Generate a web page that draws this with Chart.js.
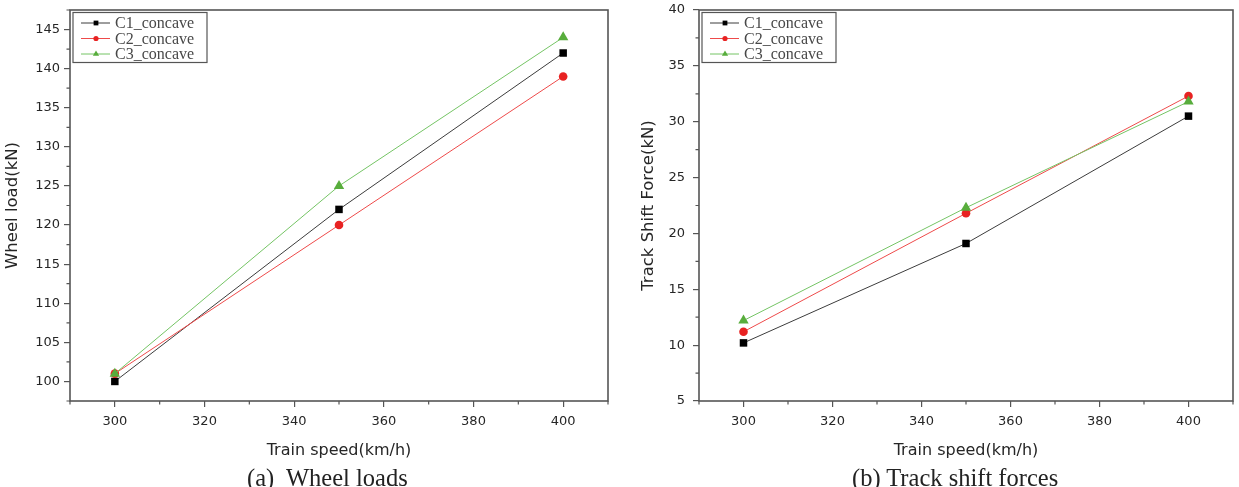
<!DOCTYPE html>
<html>
<head>
<meta charset="utf-8">
<script src="https://cdn.jsdelivr.net/npm/chart.js@4.4.0/dist/chart.umd.min.js"></script>
<style>
  html, body { margin: 0; padding: 0; background: #fff; }
  body { width: 1239px; height: 487px; position: relative; overflow: hidden; }
  .panel { position: absolute; top: 0; height: 465px; }
  .cap { position: absolute; top: 466px; font-family: 'Liberation Serif', 'Times New Roman', serif;
         font-size: 24.5px; line-height: 24px; color: #222; white-space: pre; }
</style>
</head>
<body>
<div class="panel" style="left:0;width:620px"><canvas id="chartA"></canvas></div>
<div class="panel" style="left:630px;width:609px"><canvas id="chartB"></canvas></div>
<div class="cap" style="left:247px">(a)  Wheel loads</div>
<div class="cap" style="left:852px">(b) Track shift forces</div>
<script>
// ── data ─────────────────────────────────────────
const speeds      = [300, 350, 400];
const seriesNames = ['C1_concave', 'C2_concave', 'C3_concave'];

const wheelC1 = [100, 122, 142];
const wheelC2 = [101, 120, 139];
const wheelC3 = [101, 125, 144];

const shiftC1 = [10.2, 19.1, 30.5];
const shiftC2 = [11.2, 21.8, 32.3];
const shiftC3 = [12.2, 22.3, 31.8];

const xTicks     = [300, 320, 340, 360, 380, 400];
const xMinor     = [290, 310, 330, 350, 370, 390, 410];
const wheelTicks = [100, 105, 110, 115, 120, 125, 130, 135, 140, 145];
const wheelMinor = [97.5, 102.5, 107.5, 112.5, 117.5, 122.5, 127.5, 132.5, 137.5, 142.5, 147.5];
const shiftTicks = [5, 10, 15, 20, 25, 30, 35, 40];
const shiftMinor = [7.5, 12.5, 17.5, 22.5, 27.5, 32.5, 37.5];

// ── styles ───────────────────────────────────────
const lineColors  = ['#3c3c3c', '#ee4a4a', '#74c464'];
const markColors  = ['#000000', '#e82222', '#58ad3c'];
const markStyles  = ['rect', 'circle', 'triangle'];
const markRadius  = [5.3, 4.3, 6];
const axisColor   = '#555';
const textColor   = '#262626';
const sans        = "'DejaVu Sans', sans-serif";

function drawMarker(ctx, style, x, y, r) {
  ctx.beginPath();
  if (style === 'rect') {
    const s = r * 0.75;
    ctx.rect(x - s, y - s, 2 * s, 2 * s);
  } else if (style === 'circle') {
    ctx.arc(x, y, r, 0, Math.PI * 2);
  } else {
    ctx.moveTo(x, y - r);
    ctx.lineTo(x + r * 0.87, y + r * 0.5);
    ctx.lineTo(x - r * 0.87, y + r * 0.5);
    ctx.closePath();
  }
  ctx.fill();
}

// frame, minor ticks and inner legend
const framePlugin = {
  id: 'framePlugin',
  afterDatasetsDraw(chart, args, opts) {
    const ctx = chart.ctx, a = chart.chartArea;
    const xs = chart.scales.x, ys = chart.scales.y;
    ctx.save();
    ctx.strokeStyle = axisColor;
    ctx.lineWidth = 1.6;
    ctx.strokeRect(a.left, a.top, a.right - a.left, a.bottom - a.top);

    ctx.lineWidth = 1.2;
    ctx.beginPath();
    xMinor.forEach(v => {
      const px = xs.getPixelForValue(v);
      ctx.moveTo(px, a.bottom); ctx.lineTo(px, a.bottom + 3.5);
    });
    opts.yMinor.forEach(v => {
      const py = ys.getPixelForValue(v);
      ctx.moveTo(a.left, py); ctx.lineTo(a.left - 3.5, py);
    });
    ctx.stroke();

    // legend
    const bx = a.left + 3, by = a.top + 2.5, bw = 134, bh = 50;
    ctx.fillStyle = '#fff';
    ctx.fillRect(bx, by, bw, bh);
    ctx.strokeStyle = axisColor;
    ctx.lineWidth = 1.2;
    ctx.strokeRect(bx, by, bw, bh);
    ctx.font = "16px 'Liberation Serif', serif";
    ctx.textBaseline = 'middle';
    seriesNames.forEach((name, i) => {
      const y = by + 10.5 + i * 15.5;
      ctx.strokeStyle = lineColors[i];
      ctx.lineWidth = 1;
      ctx.beginPath(); ctx.moveTo(bx + 8, y); ctx.lineTo(bx + 37, y); ctx.stroke();
      ctx.fillStyle = markColors[i];
      drawMarker(ctx, markStyles[i], bx + 23, y, markRadius[i] * 0.6);
      ctx.fillStyle = '#484848';
      ctx.fillText(name, bx + 42, y + 1);
    });
    ctx.restore();
  }
};

function makeChart(id, series, yMin, yMax, yTicks, yMinor, yTitle, lay) {
  const datasets = series.map((vals, i) => ({
    label: seriesNames[i],
    data: speeds.map((s, k) => ({ x: s, y: vals[k] })),
    borderColor: lineColors[i],
    borderWidth: 1,
    backgroundColor: markColors[i],
    pointBackgroundColor: markColors[i],
    pointBorderColor: markColors[i],
    pointBorderWidth: 0,
    pointStyle: markStyles[i],
    pointRadius: markRadius[i],
    tension: 0,
    order: 2 - i
  }));

  return new Chart(document.getElementById(id), {
    type: 'line',
    data: { datasets },
    options: {
      responsive: true, maintainAspectRatio: false, animation: false,
      layout: { padding: { top: lay.top, right: lay.right, left: 0, bottom: 0 } },
      plugins: { legend: { display: false }, tooltip: { enabled: false }, framePlugin: { yMinor } },
      scales: {
        x: {
          type: 'linear', min: 290, max: 410,
          afterBuildTicks: s => { s.ticks = xTicks.map(v => ({ value: v })); },
          afterFit: s => { s.height = 64; },
          border: { display: false },
          grid: { drawOnChartArea: false, drawTicks: true, tickLength: 6, color: axisColor, lineWidth: 1.2 },
          ticks: { color: textColor, font: { family: sans, size: 13 }, padding: 7, maxRotation: 0 },
          title: { display: true, text: 'Train speed(km/h)', color: textColor,
                   font: { family: sans, size: 16 }, padding: { top: 0, bottom: 4.5 } }
        },
        y: {
          min: yMin, max: yMax,
          afterBuildTicks: s => { s.ticks = yTicks.map(v => ({ value: v })); },
          afterFit: s => { s.width = lay.yWidth; s.paddingTop = 0; },
          border: { display: false },
          grid: { drawOnChartArea: false, drawTicks: true, tickLength: 6, color: axisColor, lineWidth: 1.2 },
          ticks: { color: textColor, font: { family: sans, size: 13 }, padding: lay.tickPad },
          title: { display: true, text: yTitle, color: textColor,
                   font: { family: sans, size: 16.5 }, padding: { top: lay.titlePad, bottom: 0 } }
        }
      }
    },
    plugins: [framePlugin]
  });
}

makeChart('chartA', [wheelC1, wheelC2, wheelC3], 97.5, 147.5, wheelTicks, wheelMinor,
  'Wheel load(kN)', { top: 10, right: 12, yWidth: 70, tickPad: 4, titlePad: 3 });
makeChart('chartB', [shiftC1, shiftC2, shiftC3], 5, 40, shiftTicks, shiftMinor,
  'Track Shift Force(kN)', { top: 10, right: 4, yWidth: 69, tickPad: 8, titlePad: 9 });
</script>
</body>
</html>
